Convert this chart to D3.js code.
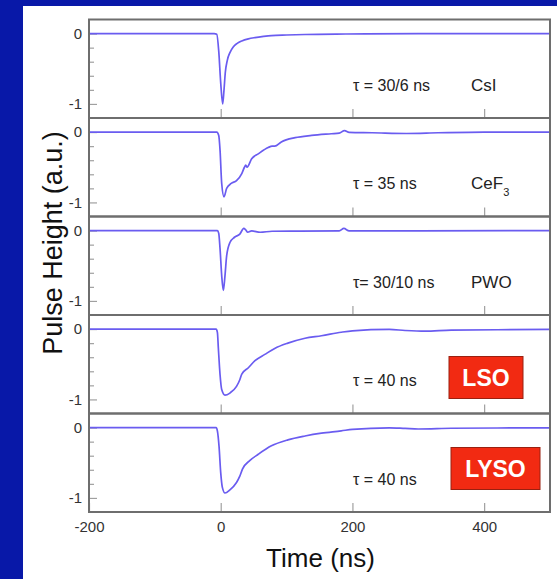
<!DOCTYPE html>
<html>
<head>
<meta charset="utf-8">
<script src="https://cdn.jsdelivr.net/npm/d3@7"></script>
<style>
  body { margin: 0; background: #0818a8; }
  svg { display: block; }
  .tick text { font-family: "Liberation Sans", Arial, sans-serif; fill: #333; }
</style>
</head>
<body>
<div id="canvas"></div>
<script>
// crystal names and decay time labels, one per panel (top to bottom)
const crystals = ["CsI", "CeF3", "PWO", "LSO", "LYSO"];
const tauLabels = ["\u03c4 = 30/6 ns", "\u03c4 = 35 ns", "\u03c4= 30/10 ns", "\u03c4 = 40 ns", "\u03c4 = 40 ns"];

// pulse shapes: [time (ns), pulse height (a.u.)]
const csiPulse = [[-200, 0], [-10, 0], [-6, -0.01], [-3, -0.25], [0, -0.7], [3, -1.0], [5, -0.8], [7, -0.55],
  [10, -0.38], [14, -0.27], [19, -0.19], [25, -0.14], [32, -0.105], [42, -0.075], [52, -0.057], [65, -0.04],
  [77, -0.028], [100, -0.02], [128, -0.013], [190, -0.006], [300, 0], [500, 0]];
const cef3Pulse = [[-200, 0], [-6, 0], [-3, -0.05], [-1, -0.26], [1.5, -0.73], [5, -0.92], [9, -0.8], [16, -0.73],
  [24, -0.69], [32, -0.59], [36, -0.5], [38, -0.47], [40, -0.5], [47, -0.38], [57, -0.31], [72, -0.22], [78, -0.2],
  [82, -0.2], [92, -0.14], [113, -0.08], [138, -0.048], [168, -0.024], [180, -0.015], [188, 0.02], [195, -0.005],
  [230, -0.01], [282, -0.02], [330, -0.01], [400, 0], [500, 0]];
const pwoPulse = [[-200, 0], [-5, 0], [-3, -0.04], [-1, -0.26], [1.5, -0.64], [4, -0.85], [6.5, -0.64], [9, -0.36],
  [14, -0.17], [21, -0.095], [29, -0.05], [35, 0.03], [38, 0.01], [41, -0.024], [47, -0.005], [60, -0.024],
  [78, -0.01], [120, -0.008], [180, -0.005], [187, 0.03], [195, -0.005], [300, -0.005], [500, 0]];
const lsoPulse = [[-200, 0], [-7, 0], [-5, -0.05], [-3.6, -0.27], [-1, -0.65], [1.5, -0.86], [6.5, -0.94],
  [14, -0.91], [24, -0.815], [29, -0.72], [32, -0.64], [42, -0.55], [52, -0.45], [67, -0.36], [82, -0.275],
  [102, -0.2], [128, -0.13], [153, -0.095], [183, -0.045], [200, -0.025], [256, -0.005], [280, -0.02],
  [310, -0.03], [350, -0.015], [420, -0.01], [500, -0.005]];
const lysoPulse = [[-200, 0], [-7, 0], [-5, -0.05], [-2.6, -0.26], [0, -0.64], [2.5, -0.85], [6.5, -0.93],
  [14, -0.885], [24, -0.78], [29, -0.69], [33, -0.59], [44, -0.47], [57, -0.38], [77, -0.26], [102, -0.175],
  [128, -0.12], [153, -0.08], [183, -0.047], [200, -0.025], [256, -0.003], [280, -0.012], [300, -0.02],
  [350, -0.01], [420, -0.006], [500, -0.003]];
const pulses = [csiPulse, cef3Pulse, pwoPulse, lsoPulse, lysoPulse];

const xTicks = [-200, 0, 200, 400];
const yMajor = [0, -1];
const yMinor = [-0.2, -0.4, -0.6, -0.8];

const W = 557, H = 579;
const plot = {left: 89, right: 550, top: 19.5, bottom: 512};
const panelH = (plot.bottom - plot.top) / pulses.length;

const svg = d3.select("#canvas").append("svg")
    .attr("width", W)
    .attr("height", H);

// blue slide background with the white card
svg.append("rect").attr("width", W).attr("height", H).attr("fill", "#0818a8");
svg.append("rect").attr("x", 23).attr("y", 6).attr("width", W - 23).attr("height", H - 6).attr("fill", "#fff");

const x = d3.scaleLinear().domain([-200, 500]).range([plot.left, plot.right]);

const line = d3.line()
    .curve(d3.curveMonotoneX)
    .x(d => x(d[0]));

const font = '"Liberation Sans", Arial, Helvetica, sans-serif';
const plain = d => String(d); // keep the plain hyphen as minus sign

pulses.forEach((pulse, i) => {
    const top = plot.top + i * panelH,
        bottom = top + panelH;
    const y = d3.scaleLinear().domain([-1.2, 0.2]).range([bottom, top]);
    const g = svg.append("g");

    g.append("clipPath").attr("id", "clip" + i)
        .append("rect")
        .attr("x", plot.left).attr("y", top)
        .attr("width", plot.right - plot.left).attr("height", panelH);

    // y ticks pointing into the panel
    const minor = g.append("g")
        .attr("transform", "translate(" + plot.left + ",0)")
        .call(d3.axisLeft(y).tickValues(yMinor).tickSize(-5).tickFormat(""));
    const major = g.append("g")
        .attr("transform", "translate(" + plot.left + ",0)")
        .call(d3.axisLeft(y).tickValues(yMajor).tickSize(-8).tickPadding(7).tickFormat(plain));
    [minor, major].forEach(a => {
        a.select(".domain").remove();
        a.selectAll(".tick line").attr("stroke", "#a0a0a0").attr("stroke-width", 1.2);
    });
    major.selectAll(".tick text").style("font-size", "15px").style("font-family", font).attr("fill", "#333");

    // x ticks at the bottom of every panel, labels only on the last one
    const last = i === pulses.length - 1;
    const xa = g.append("g")
        .attr("transform", "translate(0," + bottom + ")")
        .call(d3.axisBottom(x).tickValues(last ? xTicks : xTicks.slice(1))
            .tickSize(-9).tickPadding(9)
            .tickFormat(last ? plain : ""));
    xa.select(".domain").remove();
    xa.selectAll(".tick line").attr("stroke", "#a0a0a0").attr("stroke-width", 1.2);
    xa.selectAll(".tick text").style("font-size", "15px").style("font-family", font).attr("fill", "#333");

    g.append("path")
        .datum(pulse)
        .attr("clip-path", "url(#clip" + i + ")")
        .attr("fill", "none")
        .attr("stroke", "#6a5cf0")
        .attr("stroke-width", 1.7)
        .attr("stroke-linejoin", "round")
        .attr("d", line.y(d => y(d[1])));

    // decay time text
    g.append("text")
        .attr("x", 353)
        .attr("y", y(-0.81))
        .style("font-family", font)
        .style("font-size", "16px")
        .attr("fill", "#222")
        .text(tauLabels[i]);

    const name = crystals[i];
    if (name === "LSO" || name === "LYSO") {
        // red boxed labels
        const box = name === "LSO"
            ? {x: 449, w: 74, y0: top + 41.5, h: 42}
            : {x: 451, w: 89, y0: top + 34, h: 42};
        g.append("rect")
            .attr("x", box.x).attr("y", box.y0)
            .attr("width", box.w).attr("height", box.h)
            .attr("fill", "#f22a12")
            .attr("stroke", "#9a2010")
            .attr("stroke-width", 1);
        g.append("text")
            .attr("x", box.x + box.w / 2)
            .attr("y", box.y0 + box.h / 2 + 8)
            .attr("text-anchor", "middle")
            .style("font-family", font)
            .style("font-size", "23px")
            .style("font-weight", "bold")
            .attr("fill", "#fff")
            .text(name);
    } else {
        const t = g.append("text")
            .attr("x", 471)
            .attr("y", y(-0.81))
            .style("font-family", font)
            .style("font-size", "17px")
            .attr("fill", "#222");
        if (name === "CeF3") {
            t.append("tspan").text("CeF");
            t.append("tspan").attr("dy", 7).style("font-size", "11px").text("3");
        } else {
            t.text(name);
        }
    }

    // panel frame
    g.append("rect")
        .attr("x", plot.left).attr("y", top)
        .attr("width", plot.right - plot.left).attr("height", panelH)
        .attr("fill", "none")
        .attr("stroke", "#6e6e6e")
        .attr("stroke-width", 2);
});

svg.append("text")
    .attr("x", (plot.left + plot.right) / 2 + 1)
    .attr("y", 567)
    .attr("text-anchor", "middle")
    .style("font-family", font)
    .style("font-size", "26px")
    .attr("fill", "#111")
    .text("Time (ns)");

svg.append("text")
    .attr("transform", "translate(62,243) rotate(-90)")
    .attr("text-anchor", "middle")
    .style("font-family", font)
    .style("font-size", "27px")
    .attr("fill", "#111")
    .text("Pulse Height (a.u.)");
</script>
</body>
</html>
